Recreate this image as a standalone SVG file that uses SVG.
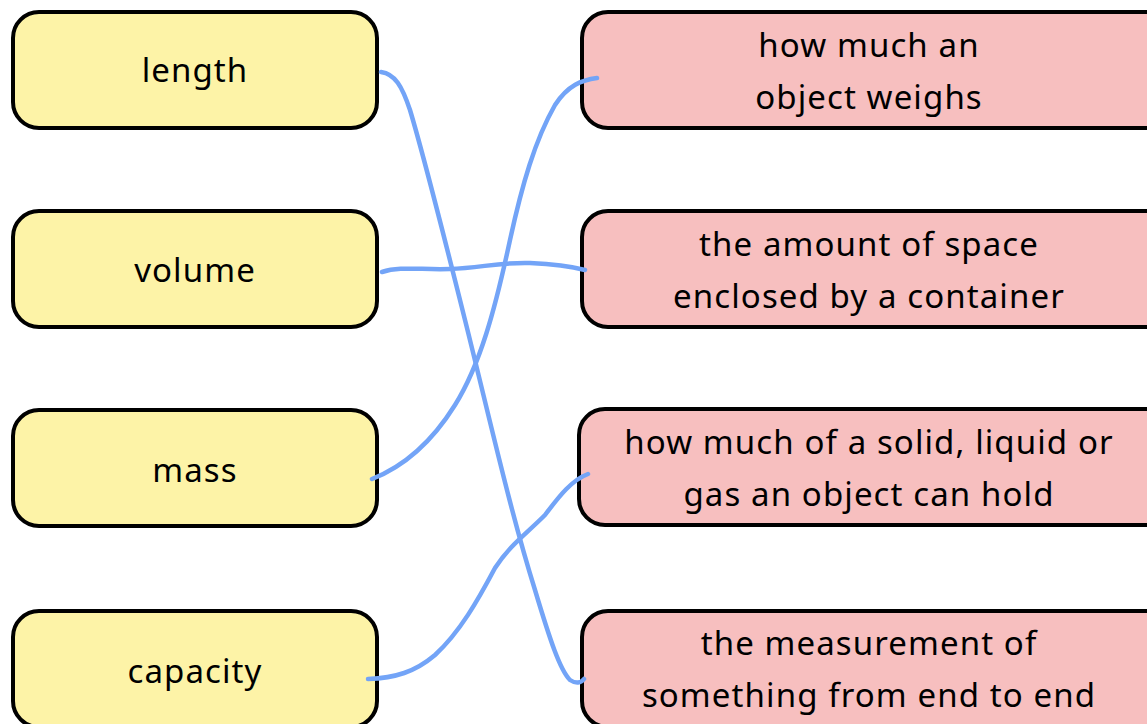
<svg xmlns="http://www.w3.org/2000/svg" width="1147" height="724" viewBox="0 0 1147 724">
<style>
.l rect{fill:#fdf3a7;stroke:#000;stroke-width:4}
.r rect{fill:#f7bfbf;stroke:#000;stroke-width:4}
text{font-family:"Noto Sans","Open Sans",sans-serif;font-size:33px;letter-spacing:1.1px;fill:#000;text-anchor:middle}
#connectors path{fill:none;stroke:#73a4f7;stroke-width:4.5;stroke-linecap:round;stroke-linejoin:round}
</style>
<rect width="1147" height="724" fill="#fff"/>
<g id="n-length" class="l"><rect x="13" y="12" width="364" height="116" rx="26"/><text x="195" y="82">length</text></g>
<g id="n-volume" class="l"><rect x="13" y="211" width="364" height="116" rx="26"/><text x="195" y="282">volume</text></g>
<g id="n-mass" class="l"><rect x="13" y="410" width="364" height="116" rx="26"/><text x="195" y="482">mass</text></g>
<g id="n-capacity" class="l"><rect x="13" y="611" width="364" height="116" rx="26"/><text x="195" y="683">capacity</text></g>
<g id="n-weighs" class="r"><rect x="582" y="12" width="600" height="116" rx="26"/><text x="869" y="57">how much an</text><text x="869" y="109">object weighs</text></g>
<g id="n-space" class="r"><rect x="582" y="211" width="600" height="116" rx="26"/><text x="869" y="256">the amount of space</text><text x="869" y="308">enclosed by a container</text></g>
<g id="n-hold" class="r"><rect x="579" y="409" width="600" height="116" rx="26"/><text x="869" y="454">how much of a solid, liquid or</text><text x="869" y="506">gas an object can hold</text></g>
<g id="n-measure" class="r"><rect x="582" y="611" width="600" height="116" rx="26"/><text x="869" y="655">the measurement of</text><text x="869" y="707">something from end to end</text></g>
<g id="connectors">
<path d="M381 72 C395 74 402 86 410 110 C425 160 445 240 465 320 C490 420 510 510 535 590 C550 640 560 670 570 680 C576 684 581 683 584 679"/>
<path d="M382 272 C400 266 420 270 450 269 C480 268 500 262 530 263 C555 264 570 266 585 270"/>
<path d="M372 479 C400 468 430 445 455 405 C480 365 495 310 510 240 C522 185 535 140 555 105 C568 85 582 80 597 78"/>
<path d="M368 679 C395 678 415 672 435 655 C460 632 478 600 495 568 C510 545 525 535 545 515 C560 495 572 480 588 474"/>
</g>
</svg>
